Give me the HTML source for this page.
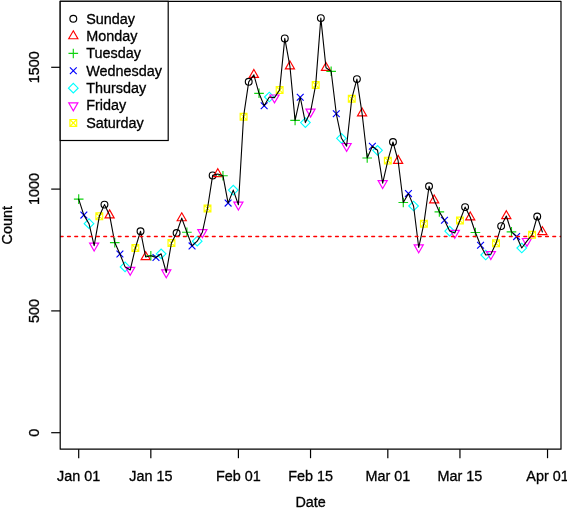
<!DOCTYPE html>
<html><head><meta charset="utf-8"><style>
html,body{margin:0;padding:0;background:#fff;}
body{width:567px;height:508px;overflow:hidden;}
svg{display:block;will-change:transform;}
text{font-family:"Liberation Sans",sans-serif;font-size:14.4px;fill:#000;stroke:#000;stroke-width:0.3px;}
</style></head><body>
<svg width="567" height="508" viewBox="0 0 567 508">
<rect width="567" height="508" fill="#fff"/>
<defs><clipPath id="pr"><rect x="60.2" y="1.3" width="500.8" height="447.9"/></clipPath></defs>
<g fill="none" stroke-width="1.15">
<path d="M73.89,199.10 H83.51 M78.70,194.29 V203.91" stroke="#10D410"/>
<path d="M80.45,211.70 L87.25,218.50 M80.45,218.50 L87.25,211.70" stroke="#0000FF"/>
<path d="M84.19,223.70 L89.00,218.89 L93.81,223.70 L89.00,228.51 Z" stroke="#00FFFF"/>
<path d="M94.16,250.99 L98.74,243.06 L89.58,243.06 Z" stroke="#FF00FF"/>
<path d="M95.91,212.90 H102.71 V219.70 H95.91 Z M95.91,212.90 L102.71,219.70 M95.91,219.70 L102.71,212.90" stroke="#FFFF00"/>
<circle cx="104.46" cy="204.60" r="3.40" stroke="#000000"/>
<path d="M109.61,209.91 L114.19,217.84 L105.03,217.84 Z" stroke="#FF0000"/>
<path d="M109.95,242.60 H119.57 M114.76,237.79 V247.41" stroke="#10D410"/>
<path d="M116.51,250.60 L123.32,257.40 M116.51,257.40 L123.32,250.60" stroke="#0000FF"/>
<path d="M120.26,266.90 L125.07,262.09 L129.88,266.90 L125.07,271.71 Z" stroke="#00FFFF"/>
<path d="M130.22,275.29 L134.80,267.36 L125.64,267.36 Z" stroke="#FF00FF"/>
<path d="M131.97,244.60 H138.77 V251.40 H131.97 Z M131.97,244.60 L138.77,251.40 M131.97,251.40 L138.77,244.60" stroke="#FFFF00"/>
<circle cx="140.52" cy="231.20" r="3.40" stroke="#000000"/>
<path d="M145.68,251.71 L150.26,259.64 L141.10,259.64 Z" stroke="#FF0000"/>
<path d="M146.02,255.70 H155.64 M150.83,250.89 V260.51" stroke="#10D410"/>
<path d="M152.58,254.10 L159.38,260.90 M152.58,260.90 L159.38,254.10" stroke="#0000FF"/>
<path d="M156.32,253.80 L161.13,248.99 L165.94,253.80 L161.13,258.61 Z" stroke="#00FFFF"/>
<path d="M166.28,277.79 L170.86,269.86 L161.70,269.86 Z" stroke="#FF00FF"/>
<path d="M168.03,239.60 H174.84 V246.40 H168.03 Z M168.03,239.60 L174.84,246.40 M168.03,246.40 L174.84,239.60" stroke="#FFFF00"/>
<circle cx="176.59" cy="233.00" r="3.40" stroke="#000000"/>
<path d="M181.74,212.81 L186.32,220.74 L177.16,220.74 Z" stroke="#FF0000"/>
<path d="M182.08,232.20 H191.70 M186.89,227.39 V237.01" stroke="#10D410"/>
<path d="M188.64,242.50 L195.45,249.30 M188.64,249.30 L195.45,242.50" stroke="#0000FF"/>
<path d="M192.39,241.20 L197.20,236.39 L202.01,241.20 L197.20,246.01 Z" stroke="#00FFFF"/>
<path d="M202.35,237.59 L206.93,229.66 L197.77,229.66 Z" stroke="#FF00FF"/>
<path d="M204.10,205.10 H210.90 V211.90 H204.10 Z M204.10,205.10 L210.90,211.90 M204.10,211.90 L210.90,205.10" stroke="#FFFF00"/>
<circle cx="212.65" cy="175.40" r="3.40" stroke="#000000"/>
<path d="M217.80,168.71 L222.38,176.64 L213.22,176.64 Z" stroke="#FF0000"/>
<path d="M218.15,175.70 H227.77 M222.96,170.89 V180.51" stroke="#10D410"/>
<path d="M224.71,199.70 L231.51,206.50 M224.71,206.50 L231.51,199.70" stroke="#0000FF"/>
<path d="M228.45,190.10 L233.26,185.29 L238.07,190.10 L233.26,194.91 Z" stroke="#00FFFF"/>
<path d="M238.41,209.99 L242.99,202.06 L233.83,202.06 Z" stroke="#FF00FF"/>
<path d="M240.16,113.30 H246.97 V120.10 H240.16 Z M240.16,113.30 L246.97,120.10 M240.16,120.10 L246.97,113.30" stroke="#FFFF00"/>
<circle cx="248.72" cy="81.80" r="3.40" stroke="#000000"/>
<path d="M253.87,69.51 L258.45,77.44 L249.29,77.44 Z" stroke="#FF0000"/>
<path d="M254.21,93.30 H263.83 M259.02,88.49 V98.11" stroke="#10D410"/>
<path d="M260.77,102.30 L267.57,109.10 M260.77,109.10 L267.57,102.30" stroke="#0000FF"/>
<path d="M264.51,97.00 L269.32,92.19 L274.13,97.00 L269.32,101.81 Z" stroke="#00FFFF"/>
<path d="M274.48,102.89 L279.06,94.96 L269.90,94.96 Z" stroke="#FF00FF"/>
<path d="M276.23,86.60 H283.03 V93.40 H276.23 Z M276.23,86.60 L283.03,93.40 M276.23,93.40 L283.03,86.60" stroke="#FFFF00"/>
<circle cx="284.78" cy="38.40" r="3.40" stroke="#000000"/>
<path d="M289.93,61.01 L294.51,68.94 L285.35,68.94 Z" stroke="#FF0000"/>
<path d="M290.27,120.40 H299.89 M295.08,115.59 V125.21" stroke="#10D410"/>
<path d="M296.83,93.80 L303.64,100.60 M296.83,100.60 L303.64,93.80" stroke="#0000FF"/>
<path d="M300.58,122.60 L305.39,117.79 L310.20,122.60 L305.39,127.41 Z" stroke="#00FFFF"/>
<path d="M310.54,117.09 L315.12,109.16 L305.96,109.16 Z" stroke="#FF00FF"/>
<path d="M312.29,81.50 H319.09 V88.30 H312.29 Z M312.29,81.50 L319.09,88.30 M312.29,88.30 L319.09,81.50" stroke="#FFFF00"/>
<circle cx="320.84" cy="18.10" r="3.40" stroke="#000000"/>
<path d="M326.00,62.51 L330.58,70.44 L321.42,70.44 Z" stroke="#FF0000"/>
<path d="M326.34,71.30 H335.96 M331.15,66.49 V76.11" stroke="#10D410"/>
<path d="M332.90,110.40 L339.70,117.20 M332.90,117.20 L339.70,110.40" stroke="#0000FF"/>
<path d="M336.64,138.30 L341.45,133.49 L346.26,138.30 L341.45,143.11 Z" stroke="#00FFFF"/>
<path d="M346.60,151.39 L351.18,143.46 L342.02,143.46 Z" stroke="#FF00FF"/>
<path d="M348.35,95.30 H355.16 V102.10 H348.35 Z M348.35,95.30 L355.16,102.10 M348.35,102.10 L355.16,95.30" stroke="#FFFF00"/>
<circle cx="356.91" cy="79.10" r="3.40" stroke="#000000"/>
<path d="M362.06,108.01 L366.64,115.94 L357.48,115.94 Z" stroke="#FF0000"/>
<path d="M362.40,158.00 H372.02 M367.21,153.19 V162.81" stroke="#10D410"/>
<path d="M368.96,142.80 L375.77,149.60 M368.96,149.60 L375.77,142.80" stroke="#0000FF"/>
<path d="M372.71,150.30 L377.52,145.49 L382.33,150.30 L377.52,155.11 Z" stroke="#00FFFF"/>
<path d="M382.67,188.49 L387.25,180.56 L378.09,180.56 Z" stroke="#FF00FF"/>
<path d="M384.42,157.20 H391.22 V164.00 H384.42 Z M384.42,157.20 L391.22,164.00 M384.42,164.00 L391.22,157.20" stroke="#FFFF00"/>
<circle cx="392.97" cy="142.00" r="3.40" stroke="#000000"/>
<path d="M398.12,155.41 L402.70,163.34 L393.54,163.34 Z" stroke="#FF0000"/>
<path d="M398.47,202.50 H408.09 M403.28,197.69 V207.31" stroke="#10D410"/>
<path d="M405.03,190.20 L411.83,197.00 M405.03,197.00 L411.83,190.20" stroke="#0000FF"/>
<path d="M408.77,206.00 L413.58,201.19 L418.39,206.00 L413.58,210.81 Z" stroke="#00FFFF"/>
<path d="M418.73,252.79 L423.31,244.86 L414.15,244.86 Z" stroke="#FF00FF"/>
<path d="M420.48,220.30 H427.29 V227.10 H420.48 Z M420.48,220.30 L427.29,227.10 M420.48,227.10 L427.29,220.30" stroke="#FFFF00"/>
<circle cx="429.04" cy="186.30" r="3.40" stroke="#000000"/>
<path d="M434.19,195.01 L438.77,202.94 L429.61,202.94 Z" stroke="#FF0000"/>
<path d="M434.53,211.90 H444.15 M439.34,207.09 V216.71" stroke="#10D410"/>
<path d="M441.09,216.90 L447.89,223.70 M441.09,223.70 L447.89,216.90" stroke="#0000FF"/>
<path d="M444.83,231.10 L449.64,226.29 L454.45,231.10 L449.64,235.91 Z" stroke="#00FFFF"/>
<path d="M454.80,238.29 L459.38,230.36 L450.22,230.36 Z" stroke="#FF00FF"/>
<path d="M456.55,217.10 H463.35 V223.90 H456.55 Z M456.55,217.10 L463.35,223.90 M456.55,223.90 L463.35,217.10" stroke="#FFFF00"/>
<circle cx="465.10" cy="207.10" r="3.40" stroke="#000000"/>
<path d="M470.25,212.01 L474.83,219.94 L465.67,219.94 Z" stroke="#FF0000"/>
<path d="M470.59,232.50 H480.21 M475.40,227.69 V237.31" stroke="#10D410"/>
<path d="M477.15,241.80 L483.96,248.60 M477.15,248.60 L483.96,241.80" stroke="#0000FF"/>
<path d="M480.90,255.00 L485.71,250.19 L490.52,255.00 L485.71,259.81 Z" stroke="#00FFFF"/>
<path d="M490.86,259.49 L495.44,251.56 L486.28,251.56 Z" stroke="#FF00FF"/>
<path d="M492.61,239.90 H499.41 V246.70 H492.61 Z M492.61,239.90 L499.41,246.70 M492.61,246.70 L499.41,239.90" stroke="#FFFF00"/>
<circle cx="501.16" cy="226.10" r="3.40" stroke="#000000"/>
<path d="M506.32,210.71 L510.90,218.64 L501.74,218.64 Z" stroke="#FF0000"/>
<path d="M506.66,231.90 H516.28 M511.47,227.09 V236.71" stroke="#10D410"/>
<path d="M513.22,233.20 L520.02,240.00 M513.22,240.00 L520.02,233.20" stroke="#0000FF"/>
<path d="M516.96,248.00 L521.77,243.19 L526.58,248.00 L521.77,252.81 Z" stroke="#00FFFF"/>
<path d="M526.92,246.39 L531.50,238.46 L522.34,238.46 Z" stroke="#FF00FF"/>
<path d="M528.67,231.40 H535.48 V238.20 H528.67 Z M528.67,231.40 L535.48,238.20 M528.67,238.20 L535.48,231.40" stroke="#FFFF00"/>
<circle cx="537.23" cy="216.50" r="3.40" stroke="#000000"/>
<path d="M542.38,226.71 L546.96,234.64 L537.80,234.64 Z" stroke="#FF0000"/>
</g>
<path d="M78.70,199.10 L83.85,215.10 L89.00,223.70 L94.16,245.70 L99.31,216.30 L104.46,204.60 L109.61,215.20 L114.76,242.60 L119.92,254.00 L125.07,266.90 L130.22,270.00 L135.37,248.00 L140.52,231.20 L145.68,257.00 L150.83,255.70 L155.98,257.50 L161.13,253.80 L166.28,272.50 L171.44,243.00 L176.59,233.00 L181.74,218.10 L186.89,232.20 L192.04,245.90 L197.20,241.20 L202.35,232.30 L207.50,208.50 L212.65,175.40 L217.80,174.00 L222.96,175.70 L228.11,203.10 L233.26,190.10 L238.41,204.70 L243.56,116.70 L248.72,81.80 L253.87,74.80 L259.02,93.30 L264.17,105.70 L269.32,97.00 L274.48,97.60 L279.63,90.00 L284.78,38.40 L289.93,66.30 L295.08,120.40 L300.24,97.20 L305.39,122.60 L310.54,111.80 L315.69,84.90 L320.84,18.10 L326.00,67.80 L331.15,71.30 L336.30,113.80 L341.45,138.30 L346.60,146.10 L351.76,98.70 L356.91,79.10 L362.06,113.30 L367.21,158.00 L372.36,146.20 L377.52,150.30 L382.67,183.20 L387.82,160.60 L392.97,142.00 L398.12,160.70 L403.28,202.50 L408.43,193.60 L413.58,206.00 L418.73,247.50 L423.88,223.70 L429.04,186.30 L434.19,200.30 L439.34,211.90 L444.49,220.30 L449.64,231.10 L454.80,233.00 L459.95,220.50 L465.10,207.10 L470.25,217.30 L475.40,232.50 L480.56,245.20 L485.71,255.00 L490.86,254.20 L496.01,243.30 L501.16,226.10 L506.32,216.00 L511.47,231.90 L516.62,236.60 L521.77,248.00 L526.92,241.10 L532.08,234.80 L537.23,216.50 L542.38,232.00" fill="none" stroke="#000" stroke-width="1.1" stroke-linejoin="round" stroke-linecap="round"/>
<g clip-path="url(#pr)"><line x1="60.2" y1="236.50" x2="561.0" y2="236.50" stroke="#FF0000" stroke-width="1.35" stroke-dasharray="2.8 4.443" stroke-dashoffset="-0.1" stroke-linecap="round"/></g>
<rect x="60.2" y="1.3" width="500.8" height="447.9" fill="none" stroke="#000" stroke-width="1.2" stroke-linejoin="round"/>
<g stroke="#000" stroke-width="1.2">
</g>
<g stroke="#000" stroke-width="1.2">
<line x1="78.70" y1="449.20" x2="78.70" y2="458.20"/>
<line x1="150.83" y1="449.20" x2="150.83" y2="458.20"/>
<line x1="238.41" y1="449.20" x2="238.41" y2="458.20"/>
<line x1="310.54" y1="449.20" x2="310.54" y2="458.20"/>
<line x1="387.82" y1="449.20" x2="387.82" y2="458.20"/>
<line x1="459.95" y1="449.20" x2="459.95" y2="458.20"/>
<line x1="547.53" y1="449.20" x2="547.53" y2="458.20"/>
<line x1="51.20" y1="432.70" x2="60.20" y2="432.70"/>
<line x1="51.20" y1="310.90" x2="60.20" y2="310.90"/>
<line x1="51.20" y1="189.10" x2="60.20" y2="189.10"/>
<line x1="51.20" y1="67.30" x2="60.20" y2="67.30"/>
</g>
<text transform="translate(78.70,480.80) scale(1,1.07)" text-anchor="middle">Jan 01</text>
<text transform="translate(150.83,480.80) scale(1,1.07)" text-anchor="middle">Jan 15</text>
<text transform="translate(238.41,480.80) scale(1,1.07)" text-anchor="middle">Feb 01</text>
<text transform="translate(310.54,480.80) scale(1,1.07)" text-anchor="middle">Feb 15</text>
<text transform="translate(387.82,480.80) scale(1,1.07)" text-anchor="middle">Mar 01</text>
<text transform="translate(459.95,480.80) scale(1,1.07)" text-anchor="middle">Mar 15</text>
<text transform="translate(547.53,480.80) scale(1,1.07)" text-anchor="middle">Apr 01</text>
<text transform="translate(39.40,432.70) rotate(-90) scale(1,1.07)" text-anchor="middle">0</text>
<text transform="translate(39.40,310.90) rotate(-90) scale(1,1.07)" text-anchor="middle">500</text>
<text transform="translate(39.40,189.10) rotate(-90) scale(1,1.07)" text-anchor="middle">1000</text>
<text transform="translate(39.40,67.30) rotate(-90) scale(1,1.07)" text-anchor="middle">1500</text>
<text transform="translate(310.60,506.90) scale(1,1.07)" text-anchor="middle">Date</text>
<text transform="translate(12.30,225.20) rotate(-90) scale(1,1.07)" text-anchor="middle">Count</text>
<rect x="60.2" y="1.3" width="107.99999999999999" height="139.2" fill="#fff" stroke="#000" stroke-width="1.2"/>
<g fill="none" stroke-width="1.15">
<circle cx="73.30" cy="18.70" r="3.40" stroke="#000000"/>
<path d="M73.30,30.78 L77.88,38.71 L68.72,38.71 Z" stroke="#FF0000"/>
<path d="M68.49,53.44 H78.11 M73.30,48.63 V58.25" stroke="#10D410"/>
<path d="M69.90,67.41 L76.70,74.21 M69.90,74.21 L76.70,67.41" stroke="#0000FF"/>
<path d="M68.49,88.18 L73.30,83.37 L78.11,88.18 L73.30,92.99 Z" stroke="#00FFFF"/>
<path d="M73.30,110.84 L77.88,102.91 L68.72,102.91 Z" stroke="#FF00FF"/>
<path d="M69.90,119.52 H76.70 V126.32 H69.90 Z M69.90,119.52 L76.70,126.32 M69.90,126.32 L76.70,119.52" stroke="#FFFF00"/>
</g>
<text transform="translate(86.20,23.60) scale(1,1.07)">Sunday</text>
<text transform="translate(86.20,40.97) scale(1,1.07)">Monday</text>
<text transform="translate(86.20,58.34) scale(1,1.07)">Tuesday</text>
<text transform="translate(86.20,75.71) scale(1,1.07)">Wednesday</text>
<text transform="translate(86.20,93.08) scale(1,1.07)">Thursday</text>
<text transform="translate(86.20,110.45) scale(1,1.07)">Friday</text>
<text transform="translate(86.20,127.82) scale(1,1.07)">Saturday</text>
</svg>
</body></html>
